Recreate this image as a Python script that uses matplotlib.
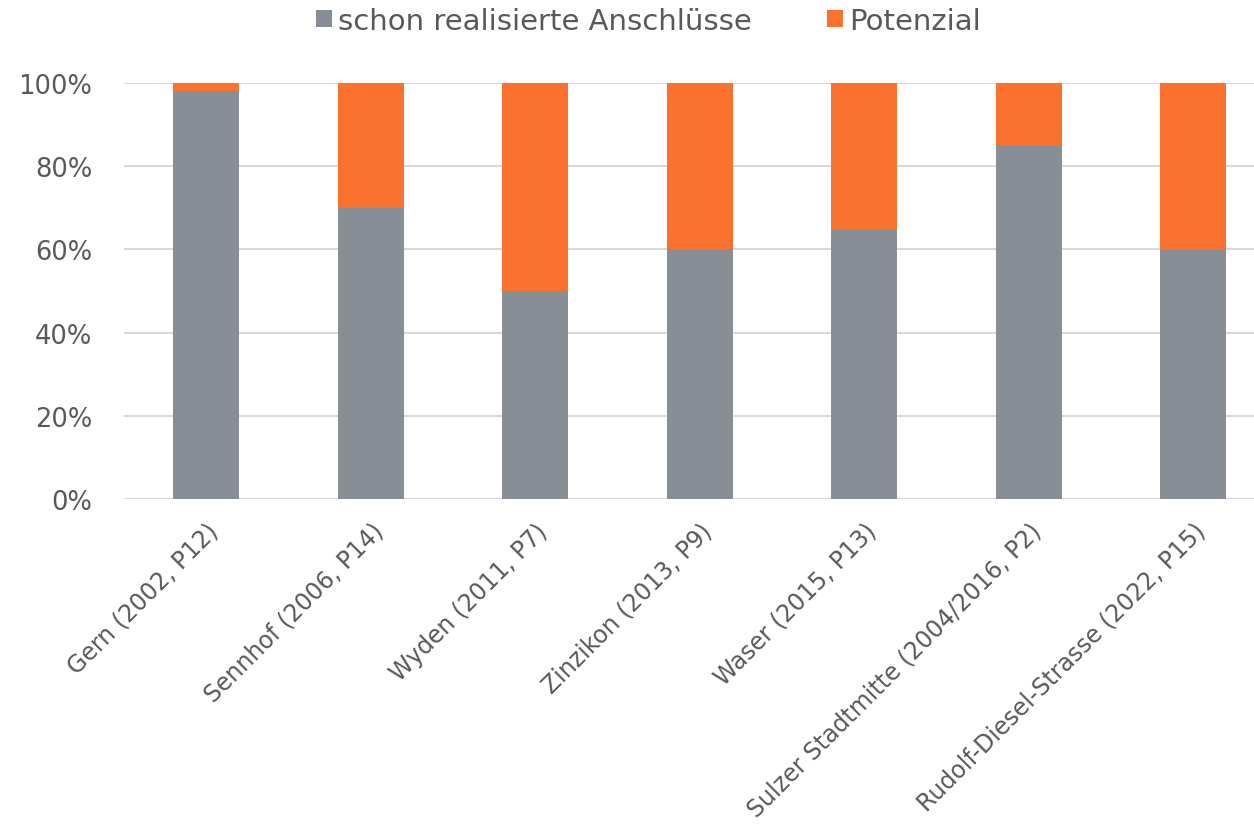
import matplotlib
matplotlib.use("Agg")
import matplotlib.pyplot as plt
from matplotlib.ticker import PercentFormatter

categories = ["Gern (2002, P12)", "Sennhof (2006, P14)", "Wyden (2011, P7)",
              "Zinzikon (2013, P9)", "Waser (2015, P13)",
              "Sulzer Stadtmitte (2004/2016, P2)", "Rudolf-Diesel-Strasse (2022, P15)"]
realisiert = [98, 70, 50, 60, 65, 85, 60]
potenzial = [2, 30, 50, 40, 35, 15, 40]
yticks = [0, 20, 40, 60, 80, 100]

GREY = "#878E96"
ORANGE = "#FA722E"
TEXT = "#595959"

plt.rcParams['font.family'] = ['DejaVu Sans']

fig = plt.figure(figsize=(12.54, 8.29), dpi=100)
ax = fig.add_axes([124/1254, 1-500/829, 1-124/1254, 416/829])

x = list(range(len(categories)))
w = 0.4
ax.bar(x, realisiert, width=w, color=GREY, label="schon realisierte Anschlüsse", zorder=3)
ax.bar(x, potenzial, width=w, bottom=realisiert, color=ORANGE, label="Potenzial", zorder=3)

ax.set_xlim(-0.5, (1254-124)/164.5 - 0.5)
ax.set_ylim(0, 100)
ax.set_yticks(yticks)
ax.yaxis.set_major_formatter(PercentFormatter(decimals=0))
ax.grid(axis='y', color="#D9D9D9", linewidth=1.5, zorder=0)
for s in ax.spines.values():
    s.set_visible(False)
ax.tick_params(axis='both', length=0, colors=TEXT)
ax.tick_params(axis='y', labelsize=18.5, pad=23)
ax.set_xticks(x)
ax.set_xticklabels(categories, rotation=45, ha='right', rotation_mode='anchor', fontsize=17, color=TEXT)
ax.tick_params(axis='x', pad=14)
for lbl in ax.get_yticklabels():
    lbl.set_color(TEXT)

leg = fig.legend(loc='center', bbox_to_anchor=(0.517, 1 - 22/829), ncol=2, frameon=False,
                 fontsize=21, handlelength=0.55, handleheight=0.55, handletextpad=0.2,
                 columnspacing=2.6)
for t in leg.get_texts():
    t.set_color(TEXT)

fig.savefig("out.png", dpi=100)
